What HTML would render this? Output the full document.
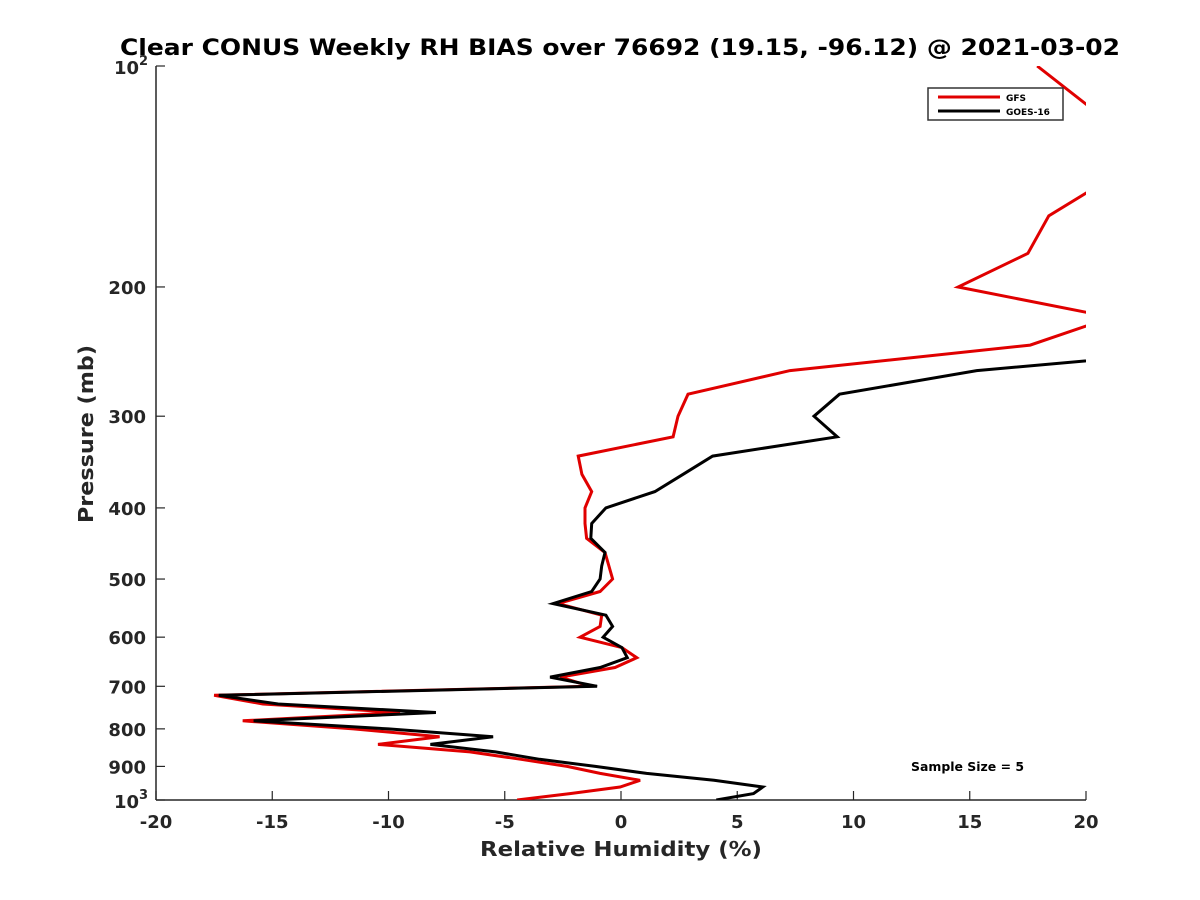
<!DOCTYPE html>
<html><head><meta charset="utf-8"><style>
body{margin:0;background:#fff;}
svg{display:block;font-family:"DejaVu Sans","Liberation Sans",sans-serif;}
</style></head><body>
<svg id="chart" width="1200" height="900" viewBox="0 0 1200 900" xmlns="http://www.w3.org/2000/svg">
<defs><clipPath id="plotclip"><rect x="156" y="66" width="930" height="734"/></clipPath></defs>
<text x="120" y="55" textLength="1000" lengthAdjust="spacingAndGlyphs" font-size="22" font-weight="bold" fill="#000">Clear CONUS Weekly RH BIAS over 76692 (19.15, -96.12) @ 2021-03-02</text>
<g id="axes"></g>
<g id="series" clip-path="url(#plotclip)"></g>
<g>
<rect x="928" y="88" width="135" height="32" fill="#fff" stroke="#333" stroke-width="1.5"/>
<line x1="938" y1="97" x2="1000" y2="97" stroke="#e00000" stroke-width="3"/>
<text x="1006" y="101" font-size="9" font-weight="bold">GFS</text>
<line x1="938" y1="111" x2="1000" y2="111" stroke="#000" stroke-width="3"/>
<text x="1006" y="115" font-size="9" font-weight="bold">GOES-16</text>
</g>
<text x="911" y="771" textLength="113" lengthAdjust="spacingAndGlyphs" font-size="12" font-weight="bold">Sample Size = 5</text>
<text x="480" y="856" textLength="282" lengthAdjust="spacingAndGlyphs" font-size="20" font-weight="bold" fill="#262626">Relative Humidity (%)</text>
<text transform="translate(93,523) rotate(-90)" textLength="178" lengthAdjust="spacingAndGlyphs" font-size="20" font-weight="bold" fill="#262626">Pressure (mb)</text>
</svg>
<script>
const pressures = [100,120,140,160,180,200,220,240,260,280,300,320,340,360,380,400,420,440,460,480,500,520,540,560,580,600,620,640,660,680,700,720,740,760,780,800,820,840,860,880,900,920,940,960,980,1000];
const gfsValues = [17.9,21.1,21.4,18.4,17.5,14.5,21.1,17.6,7.27,2.88,2.45,2.24,-1.84,-1.68,-1.26,-1.55,-1.55,-1.48,-0.69,-0.52,-0.36,-0.9,-2.71,-0.83,-0.9,-1.76,0.04,0.68,-0.26,-2.62,-1.33,-17.5,-15.4,-9.5,-16.27,-11.5,-7.8,-10.45,-6.5,-4.3,-2.32,-0.9,0.82,-0.04,-2.2,-4.47];
const goesValues = [35,35,35,35,35,35,35,27.6,15.3,9.4,8.3,9.3,3.94,2.67,1.46,-0.65,-1.26,-1.3,-0.69,-0.83,-0.9,-1.26,-2.92,-0.65,-0.36,-0.77,0.04,0.27,-0.9,-3.05,-1.03,-17.3,-14.75,-7.96,-15.8,-10.0,-5.5,-8.2,-5.4,-3.5,-1.1,1.1,4.0,6.1,5.7,4.1];
const xTicks = [-20,-15,-10,-5,0,5,10,15,20];
const yTicks = [200,300,400,500,600,700,800,900];

const NS="http://www.w3.org/2000/svg";
const X0=156,X1=1086,Y0=66,Y1=800;
function xs(v){return X0+(v+20)/40*(X1-X0);}
function ys(p){return Y0+Math.log10(p/100)*(Y1-Y0);}
function mk(tag,attrs,parent){const e=document.createElementNS(NS,tag);for(const k in attrs)e.setAttribute(k,attrs[k]);parent.appendChild(e);return e;}
const axes=document.getElementById('axes');
const series=document.getElementById('series');
const xa=mk('line',{x1:X0,y1:Y1,x2:X1,y2:Y1,stroke:'#262626','stroke-width':1.5},axes);


const ya=mk('line',{x1:X0,y1:Y0,x2:X0,y2:Y1,stroke:'#262626','stroke-width':1.5},axes);


xTicks.forEach(v=>{
  mk('line',{x1:xs(v),y1:Y1,x2:xs(v),y2:Y1-9,stroke:'#262626','stroke-width':1.2},axes);
  const t=mk('text',{x:xs(v),y:Y1+28,'text-anchor':'middle','font-size':18,'font-weight':'bold',fill:'#262626'},axes);
  t.textContent=v;
  
  
});
yTicks.forEach(p=>{
  mk('line',{x1:X0,y1:ys(p),x2:X0+9,y2:ys(p),stroke:'#262626','stroke-width':1.2},axes);
  const t=mk('text',{x:X0-10,y:ys(p)+7,'text-anchor':'end','font-size':18,'font-weight':'bold',fill:'#262626'},axes);
  t.textContent=p;
  
  
});
[[100,'2'],[1000,'3']].forEach(([p,e])=>{
  mk('line',{x1:X0,y1:ys(p),x2:X0+9,y2:ys(p),stroke:'#262626','stroke-width':1.2},axes);
  const t=mk('text',{x:X0-17,y:ys(p)+8,'text-anchor':'end','font-size':18,'font-weight':'bold',fill:'#262626'},axes);
  t.textContent='10';
  
  
  const s=mk('text',{x:X0-17,y:ys(p)-1,'text-anchor':'start','font-size':13,'font-weight':'bold',fill:'#262626'},axes);
  s.textContent=e;
  
  
});
function drawLine(vals,color,name){
  const pts=vals.map((v,i)=>xs(v).toFixed(1)+','+ys(pressures[i]).toFixed(1)).join(' ');
  const pl=mk('polyline',{points:pts,fill:'none',stroke:color,'stroke-width':3,'stroke-linejoin':'miter'},series);
  
  
}
drawLine(gfsValues,'#e00000','gfs-line');
drawLine(goesValues,'#000','goes16-line');
</script>
</body></html>
